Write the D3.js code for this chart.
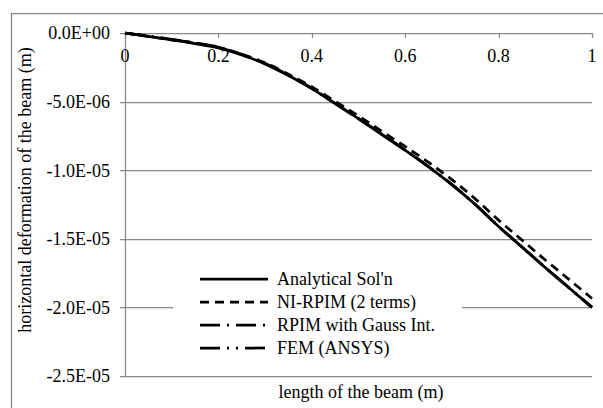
<!DOCTYPE html>
<html>
<head>
<meta charset="utf-8">
<script src="https://cdn.jsdelivr.net/npm/d3@7"></script>
<style>
  body { margin: 0; background: #fff; }
  svg { display: block; }
</style>
</head>
<body>
<svg id="chart" width="603" height="408"></svg>
<script>
// beam positions (m)
const positions = [0, 0.05, 0.1, 0.15, 0.2, 0.25, 0.3, 0.35, 0.4, 0.45, 0.5, 0.55, 0.6, 0.65, 0.7, 0.75, 0.8, 0.85, 0.9, 0.95, 1];

// horizontal deformation, in 1e-6 m
const analytical = [0, -0.25, -0.5, -0.77, -1.08, -1.6, -2.25, -3.1, -4.05, -5.15, -6.25, -7.4, -8.55, -9.75, -11.05, -12.5, -14.1, -15.6, -17.1, -18.55, -20.0];
const niRpim = [0, -0.25, -0.5, -0.75, -1.05, -1.55, -2.17, -3.0, -3.92, -4.98, -6.05, -7.16, -8.27, -9.43, -10.69, -12.09, -13.64, -15.09, -16.54, -17.94, -19.35];
const rpimGauss = [0, -0.22, -0.46, -0.72, -1.02, -1.56, -2.22, -3.08, -4.03, -5.13, -6.23, -7.38, -8.53, -9.74, -11.04, -12.49, -14.09, -15.59, -17.09, -18.54, -19.99];
const femAnsys = [0, -0.24, -0.48, -0.74, -1.05, -1.58, -2.24, -3.09, -4.04, -5.14, -6.24, -7.39, -8.54, -9.75, -11.05, -12.5, -14.1, -15.6, -17.1, -18.55, -20.0];

const seriesNames = ["Analytical Sol'n", "NI-RPIM (2 terms)", "RPIM with Gauss Int.", "FEM (ANSYS)"];
const xTicks = [0, 0.2, 0.4, 0.6, 0.8, 1];
const yTicks = [0, -5e-6, -1e-5, -1.5e-5, -2e-5, -2.5e-5];

const svg = d3.select("#chart");
const grey = "#898989";
const serif = "'Liberation Serif', 'Times New Roman', serif";

const x = d3.scaleLinear().domain([0, 1]).range([125, 592]);
const y = d3.scaleLinear().domain([0, -2.5e-5]).range([33, 376]);

const sci = v => {
    if (v === 0) return "0.0E+00";
    const [m, e] = v.toExponential(1).split("e");
    const n = Math.abs(+e);
    return `${m}E${+e < 0 ? "-" : "+"}${n < 10 ? "0" + n : n}`;
};

// outer frame (left and top edges are visible)
svg.append("path")
    .attr("d", "M11.5,408V13.5H603")
    .attr("fill", "none")
    .attr("stroke", grey)
    .attr("stroke-width", 1.25);

// gridlines + y ticks
svg.selectAll(".grid")
    .data(yTicks)
    .join("line")
    .attr("class", "grid")
    .attr("x1", 120)
    .attr("x2", x(1))
    .attr("y1", d => Math.round(y(d)) + 0.5)
    .attr("y2", d => Math.round(y(d)) + 0.5)
    .attr("stroke", grey)
    .attr("stroke-width", 1.25);

svg.selectAll(".y-label")
    .data(yTicks)
    .join("text")
    .attr("class", "y-label")
    .attr("x", 110)
    .attr("y", d => y(d))
    .attr("dy", "0.35em")
    .attr("text-anchor", "end")
    .style("font-family", serif)
    .attr("font-size", 18)
    .text(sci);

// y axis line
svg.append("line")
    .attr("x1", 125.5).attr("x2", 125.5)
    .attr("y1", y(0)).attr("y2", y(-2.5e-5))
    .attr("stroke", grey)
    .attr("stroke-width", 1.25);

// x axis sits on zero, with ticks pointing down
svg.selectAll(".x-tick")
    .data(xTicks)
    .join("line")
    .attr("class", "x-tick")
    .attr("x1", d => Math.round(x(d)) + 0.5)
    .attr("x2", d => Math.round(x(d)) + 0.5)
    .attr("y1", y(0))
    .attr("y2", y(0) + 5)
    .attr("stroke", grey)
    .attr("stroke-width", 1.25);

svg.selectAll(".x-label")
    .data(xTicks)
    .join("text")
    .attr("class", "x-label")
    .attr("x", d => x(d))
    .attr("y", 62)
    .attr("text-anchor", "middle")
    .style("font-family", serif)
    .attr("font-size", 18)
    .text(d => d);

// curves
const dashes = [null, "9,6", "20,7,2,7", "20,7,2,7,2,7"];
const seriesData = [analytical, niRpim, rpimGauss, femAnsys];
const line = d3.line()
    .x((d, i) => x(positions[i]))
    .y(d => y(d * 1e-6))
    .curve(d3.curveMonotoneX);

svg.selectAll(".curve")
    .data(seriesData)
    .join("path")
    .attr("class", "curve")
    .attr("d", line)
    .attr("fill", "none")
    .attr("stroke", "#000")
    .attr("stroke-width", 2.75)
    .attr("stroke-dasharray", (d, i) => dashes[i]);

// legend
const legend = svg.append("g");
legend.append("rect")
    .attr("x", 173).attr("y", 263)
    .attr("width", 289).attr("height", 98)
    .attr("fill", "#fff");

const item = legend.selectAll(".legend-item")
    .data(seriesNames)
    .join("g")
    .attr("class", "legend-item")
    .attr("transform", (d, i) => `translate(0, ${279 + i * 23})`);

item.append("line")
    .attr("x1", 200).attr("x2", 268)
    .attr("stroke", "#000")
    .attr("stroke-width", 2.75)
    .attr("stroke-dasharray", (d, i) => dashes[i]);

item.append("text")
    .attr("x", 277)
    .attr("dy", "0.35em")
    .style("font-family", serif)
    .attr("font-size", 18)
    .text(d => d);

// axis titles
svg.append("text")
    .attr("x", 361)
    .attr("y", 398)
    .attr("text-anchor", "middle")
    .style("font-family", serif)
    .attr("font-size", 18)
    .text("length of the beam (m)");

svg.append("text")
    .attr("transform", "translate(31, 190) rotate(-90)")
    .attr("text-anchor", "middle")
    .style("font-family", serif)
    .attr("font-size", 18)
    .text("horizontal deformation of the beam (m)");
</script>
</body>
</html>
